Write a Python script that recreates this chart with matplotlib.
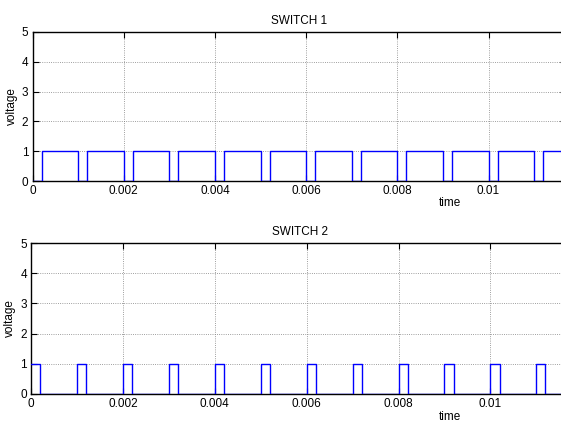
import matplotlib
matplotlib.use("Agg")
import matplotlib.pyplot as plt

plt.rcParams['font.family'] = ['Liberation Sans Narrow', 'Liberation Sans', 'DejaVu Sans']

# switching instants (s) and gate levels, held until the next instant
time_edges = [0.0, 0.0002, 0.0010, 0.0012, 0.0020, 0.0022, 0.0030, 0.0032,
              0.0040, 0.0042, 0.0050, 0.0052, 0.0060, 0.0062, 0.0070, 0.0072,
              0.0080, 0.0082, 0.0090, 0.0092, 0.0100, 0.0102, 0.0110, 0.0112,
              0.0120]
switch1 = [0, 1, 0, 1, 0, 1, 0, 1, 0, 1, 0, 1, 0, 1, 0, 1, 0, 1, 0, 1, 0, 1,
           0, 1, 1]
switch2 = [1, 0, 1, 0, 1, 0, 1, 0, 1, 0, 1, 0, 1, 0, 1, 0, 1, 0, 1, 0, 1, 0,
           1, 0, 0]

xticks = [0, 0.002, 0.004, 0.006, 0.008, 0.01]
xtick_labels = ["0", "0.002", "0.004", "0.006", "0.008", "0.01"]
yticks = [0, 1, 2, 3, 4, 5]

FS = 8.5

fig = plt.figure(figsize=(5.61, 4.25), dpi=100)
ax1 = fig.add_axes([0.058, 0.574, 0.951, 0.351])
ax2 = fig.add_axes([0.0553, 0.073, 0.958, 0.355])

panels = [(ax1, switch1, "SWITCH 1"), (ax2, switch2, "SWITCH 2")]
for ax, sig, title in panels:
    ax.plot(time_edges, sig, drawstyle="steps-post", color="#0000ff",
            lw=1.0, zorder=3)
    ax.set_xlim(0, 0.0117)
    ax.set_ylim(0, 5)
    ax.set_xticks(xticks)
    ax.set_xticklabels(xtick_labels)
    ax.set_yticks(yticks)
    ax.grid(True, color="#7f7f7f", lw=0.6, ls=":")
    ax.tick_params(direction="in", top=True, right=True, length=4,
                   labelsize=FS, pad=3, width=0.8)
    for sp in ax.spines.values():
        sp.set_linewidth(1.0)
    ax.set_title(title, fontsize=FS, pad=6)
    ax.set_ylabel("voltage", fontsize=FS, labelpad=3)

# MATLAB places the xlabel off-centre here
fig.text(450 / 561, 1 - 203 / 425, "time", fontsize=FS, ha="center", va="center")
fig.text(450 / 561, 1 - 417 / 425, "time", fontsize=FS, ha="center", va="center")

fig.savefig("out.png", dpi=100)
